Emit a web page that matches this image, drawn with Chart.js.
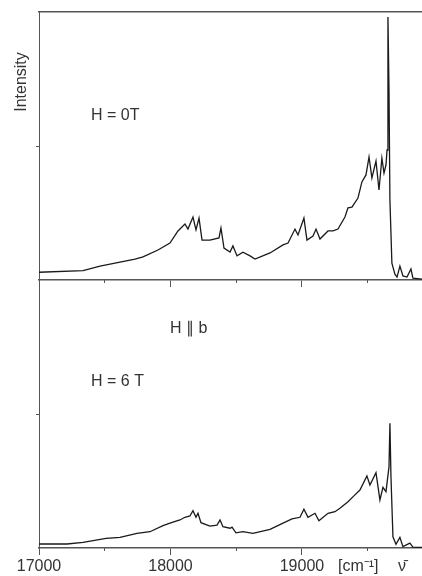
<!DOCTYPE html>
<html>
<head>
<meta charset="utf-8">
<title>Spectrum H = 0T / H = 6 T</title>
<script src="https://cdn.jsdelivr.net/npm/chart.js@4"></script>
<style>
  html, body { margin: 0; padding: 0; background: #fff; }
  #wrap { position: relative; width: 422px; height: 576px; overflow: hidden; }
  .panel { position: absolute; left: 0; width: 422px; }
  #top { top: 0; height: 292px; }
  #bottom { top: 281px; height: 295px; }
</style>
</head>
<body>
<div id="wrap">
  <div class="panel" id="top"><canvas id="topChart"></canvas></div>
  <div class="panel" id="bottom"><canvas id="bottomChart"></canvas></div>
</div>
<script>
// wavenumber range [cm-1]
const wnMin = 17000;
const wnMax = 19913;
const majorTicks = [17000, 18000, 19000];
const minorTicks = [17500, 18500, 19500];

// H = 0T spectrum
const wnTop = [17000, 17335, 17464, 17730, 17791, 17905, 17996, 18057, 18110, 18133,
  18171, 18194, 18217, 18240, 18300, 18369, 18384, 18407, 18453, 18475,
  18506, 18551, 18605, 18643, 18757, 18856, 18894, 18947, 18970, 19015,
  19038, 19084, 19107, 19137, 19198, 19236, 19274, 19327, 19350, 19380,
  19426, 19456, 19487, 19510, 19532, 19563, 19586, 19608, 19624, 19639,
  19647, 19654, 19662, 19669, 19684, 19707, 19723, 19745, 19768, 19799,
  19829, 19844, 19913];
const intTop = [2.9, 3.5, 5.2, 7.8, 8.6, 11.2, 13.8, 18.3, 20.9, 19.0,
  23.5, 18.7, 23.1, 14.9, 14.9, 15.7, 19.4, 11.9, 10.4, 12.7,
  9.0, 10.4, 9.0, 7.8, 10.1, 13.1, 13.8, 19.0, 16.8, 23.1,
  14.9, 16.4, 19.0, 15.3, 18.3, 18.3, 19.0, 23.5, 26.9, 27.2,
  30.6, 36.6, 39.2, 45.9, 38.1, 44.4, 33.6, 45.5, 39.9, 42.9,
  48.5, 98.1, 70.9, 29.9, 6.3, 2.2, 1.1, 5.2, 1.5, 1.1,
  4.1, 0.7, 0.3];

// H = 6 T spectrum
const wnBottom = [17000, 17213, 17335, 17510, 17616, 17745, 17844, 17943, 17996, 18072,
  18110, 18148, 18171, 18194, 18209, 18232, 18300, 18354, 18377, 18399,
  18453, 18468, 18498, 18551, 18627, 18757, 18856, 18924, 18985, 19015,
  19046, 19099, 19129, 19198, 19251, 19289, 19350, 19403, 19441, 19494,
  19517, 19563, 19593, 19616, 19639, 19662, 19669, 19677, 19692, 19715,
  19745, 19768, 19821, 19844, 19913];
const intBottom = [1.5, 1.5, 2.1, 3.6, 4.0, 5.5, 6.1, 8.4, 9.3, 10.5,
  11.5, 12.0, 14.0, 11.5, 13.0, 9.5, 8.2, 8.6, 10.5, 8.0,
  7.4, 7.8, 5.7, 6.1, 5.5, 7.0, 9.3, 10.9, 11.5, 14.5,
  11.5, 13.0, 10.2, 13.0, 13.6, 14.9, 17.3, 19.9, 21.7, 27.0,
  23.6, 28.2, 18.0, 22.7, 21.1, 30.4, 46.7, 26.7, 4.2, 1.4,
  4.0, 0.5, 1.8, 0.3, 0.2];

const axisColor = '#555';
const textColor = '#333';
const textFont = '16px "Liberation Sans", Arial, sans-serif';

function toPoints(xs, ys) {
  return xs.map((x, i) => ({ x: x, y: ys[i] }));
}

function fixedTicks(values) {
  return scale => { scale.ticks = values.map(v => ({ value: v })); };
}

// free text drawn on top of each panel
const notesPlugin = {
  id: 'notes',
  afterDraw(chart, args, opts) {
    const ctx = chart.ctx;
    (opts.items || []).forEach(n => {
      ctx.save();
      ctx.font = n.font || textFont;
      ctx.fillStyle = textColor;
      ctx.textBaseline = 'middle';
      ctx.textAlign = n.align || 'left';
      ctx.translate(n.x, n.y);
      if (n.rotate) ctx.rotate(n.rotate);
      ctx.fillText(n.text, 0, 0);
      ctx.restore();
    });
  }
};

function panelOptions(opts) {
  return {
    responsive: true,
    maintainAspectRatio: false,
    animation: false,
    layout: { padding: 0 },
    plugins: {
      legend: { display: false },
      tooltip: { enabled: false },
      notes: { items: opts.notes }
    },
    scales: {
      x: {
        type: 'linear',
        position: 'bottom',
        min: wnMin,
        max: wnMax,
        weight: 0,
        afterBuildTicks: fixedTicks(majorTicks),
        afterFit: s => { s.height = opts.xHeight; },
        grid: { display: true, drawOnChartArea: false, drawTicks: true, tickLength: 7, tickColor: axisColor },
        border: { display: true, color: axisColor, width: 1.5 },
        ticks: {
          display: opts.showLabels,
          padding: 2,
          maxRotation: 0,
          color: textColor,
          font: { family: '"Liberation Sans", Arial, sans-serif', size: 16 },
          callback: v => String(v)
        }
      },
      xMinor: {
        type: 'linear',
        position: 'bottom',
        min: wnMin,
        max: wnMax,
        weight: -1,
        afterBuildTicks: fixedTicks(minorTicks),
        afterFit: s => { s.height = 0; },
        grid: { display: true, drawOnChartArea: false, drawTicks: true, tickLength: 3, tickColor: axisColor },
        border: { display: false },
        ticks: { display: false }
      },
      xTop: {
        type: 'linear',
        position: 'top',
        min: wnMin,
        max: wnMax,
        display: opts.topBorder,
        afterFit: s => { s.height = opts.topHeight; },
        grid: { display: false },
        border: { display: true, color: axisColor, width: 1.5 },
        ticks: { display: false }
      },
      y: {
        min: 0,
        max: 100,
        afterBuildTicks: fixedTicks([50]),
        afterFit: s => { s.width = 39; },
        grid: { display: true, drawOnChartArea: false, drawTicks: true, tickLength: 3, tickColor: axisColor },
        border: { display: true, color: axisColor, width: 1 },
        ticks: { display: false }
      }
    }
  };
}

function lineDataset(xs, ys) {
  return {
    data: toPoints(xs, ys),
    borderColor: '#1a1a1a',
    borderWidth: 1.3,
    pointRadius: 0,
    tension: 0,
    fill: false
  };
}

new Chart(document.getElementById('topChart'), {
  type: 'line',
  data: { datasets: [lineDataset(wnTop, intTop)] },
  options: panelOptions({
    xHeight: 12,
    topHeight: 12,
    topBorder: true,
    showLabels: false,
    notes: [
      { text: 'Intensity', x: 22, y: 82, align: 'center', rotate: -Math.PI / 2 },
      { text: 'H = 0T', x: 91, y: 116 }
    ]
  }),
  plugins: [notesPlugin]
});

new Chart(document.getElementById('bottomChart'), {
  type: 'line',
  data: { datasets: [lineDataset(wnBottom, intBottom)] },
  options: panelOptions({
    xHeight: 28,
    topHeight: 0,
    topBorder: false,
    showLabels: true,
    notes: [
      { text: 'H \u2225 b', x: 170, y: 48 },
      { text: 'H = 6 T', x: 91, y: 101 },
      { text: '[cm\u207B\u00B9]', x: 338, y: 286 },
      { text: '\u03BD\u0304', x: 402, y: 286, align: 'center' }
    ]
  }),
  plugins: [notesPlugin]
});
</script>
</body>
</html>
